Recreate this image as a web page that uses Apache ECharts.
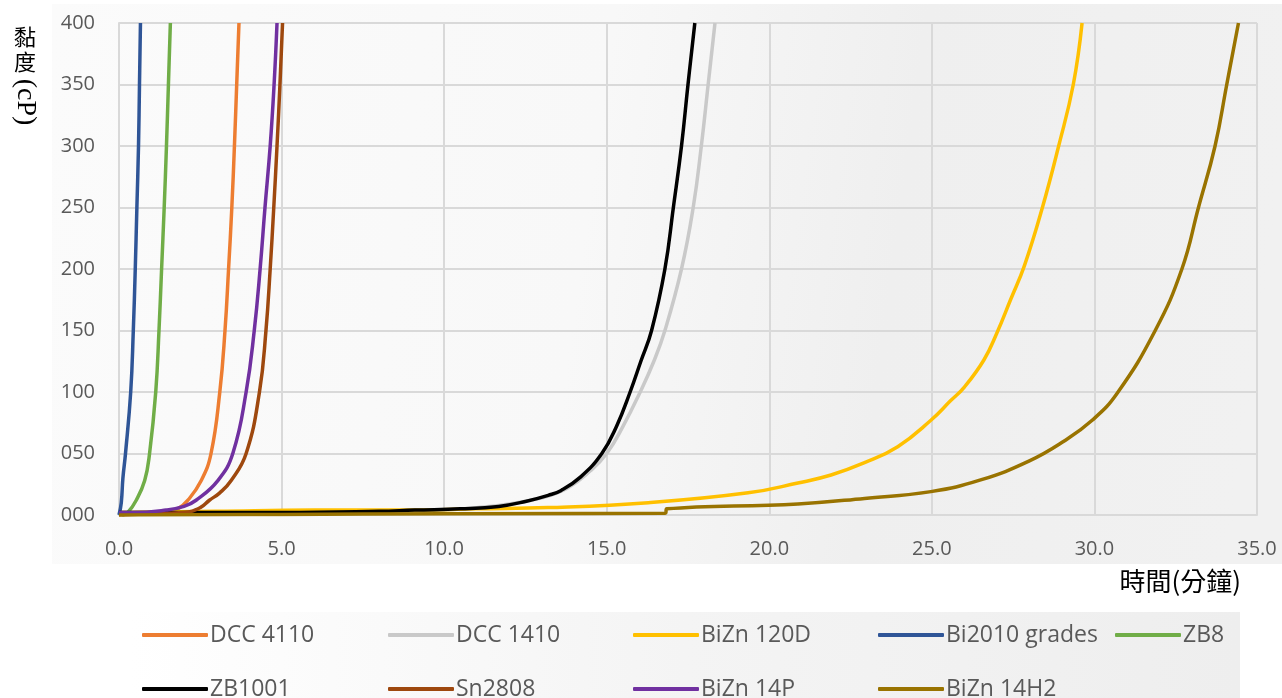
<!DOCTYPE html>
<html>
<head>
<meta charset="utf-8">
<script src="https://cdn.jsdelivr.net/npm/echarts@6/dist/echarts.min.js"></script>
<style>
html,body{margin:0;padding:0;background:#fff;}
#chart{width:1282px;height:698px;}
</style>
</head>
<body>
<div id="chart"></div>
<script>
// ---- data (time in minutes, viscosity in cP) ----
const seriesNames = ['DCC 4110','DCC 1410','BiZn 120D','Bi2010 grades','ZB8','ZB1001','Sn2808','BiZn 14P','BiZn 14H2'];
const seriesColors = ['#ED7D31','#C9C9C9','#FFC000','#2F5597','#70AD47','#000000','#9E480E','#7030A0','#997300'];

const dcc4110 = [[0,1],[1.0,1.5],[1.5,3],[1.81,5],[2.12,12],[2.53,28],[2.83,50],[3.1,100],[3.26,150],[3.37,200],[3.47,250],[3.55,300],[3.62,350],[3.69,400]];
const dcc1410 = [[0,1],[3,1.5],[6,2],[9,3],[10,4],[11,6],[12,9],[13,14],[13.8,22],[14.5,36],[15.0,50],[15.5,72],[16.03,100],[16.45,125],[16.79,150],[17.3,200],[17.66,250],[17.91,300],[18.12,350],[18.33,400]];
const bizn120d = [[0,2],[3,3],[6,4],[9,4],[11,5],[13.2,6],[16.28,10],[19.35,18],[20.88,26],[21.9,32.5],[22.93,42.5],[23.95,55.5],[24.97,77],[25.58,93],[26.0,104],[26.6,126],[27.0,148],[27.42,175],[27.85,203],[28.4,250],[28.9,300],[29.35,350],[29.62,400]];
const bi2010 = [[0,0],[0.07,10],[0.12,30],[0.2,50],[0.36,100],[0.44,150],[0.5,200],[0.55,250],[0.6,300],[0.63,350],[0.66,400]];
const zb8 = [[0.1,0],[0.27,2],[0.53,12],[0.79,28],[0.94,50],[1.13,100],[1.23,150],[1.31,200],[1.39,250],[1.46,300],[1.52,350],[1.58,400]];
const zb1001 = [[0,2],[5,2],[8,3],[9.1,4],[10.5,5],[11.68,7],[12.5,11],[13.2,16],[13.6,20],[14.2,31],[14.85,50],[15.3,72],[15.72,100],[16.05,125],[16.38,150],[16.79,200],[17.05,250],[17.3,300],[17.5,350],[17.71,400]];
const sn2808 = [[0,0],[1,1],[2.0,2],[2.5,6],[2.78,12],[3.1,18],[3.45,28],[3.91,50],[4.32,100],[4.52,150],[4.65,200],[4.76,250],[4.86,300],[4.95,350],[5.03,400]];
const bizn14p = [[0,2],[0.42,2],[1.45,4],[2.0,7],[2.37,12],[3.04,28],[3.5,50],[3.91,100],[4.16,150],[4.34,200],[4.49,250],[4.65,300],[4.77,350],[4.86,400]];
const bizn14h2 = [[0,0],[5,0.5],[10,1],[16.8,1.5],[16.85,5],[20.88,9],[22.93,13.5],[24.97,19],[26.5,28.5],[28.0,44],[29.06,60],[29.93,77],[30.7,99],[31.87,150],[32.69,200],[33.2,250],[33.71,300],[34.07,350],[34.43,400]];

const seriesData = [dcc4110, dcc1410, bizn120d, bi2010, zb8, zb1001, sn2808, bizn14p, bizn14h2];

const xTicks = {min:0, max:35, interval:5};
const yTicks = {min:0, max:400, interval:50};

const yAxisName = ['黏','度','(cP)'];
const xAxisName = '時間(分鐘)';

// legend placement (two rows)
const legendPos = [
  [137,616],[383,616],[628,616],[873,616],[1110,616],
  [137,670],[383,670],[628,670],[873,670]
];

const chart = echarts.init(document.getElementById('chart'), null, {renderer:'canvas'});

const series = seriesNames.map((n,i)=>({
  name:n, type:'line', data:seriesData[i],
  showSymbol:false, symbol:'none',
  smooth:0.45,
  lineStyle:{color:seriesColors[i], width:3.5},
  itemStyle:{color:seriesColors[i]},
  z: 2 + i, clip:true, animation:false
}));

const legends = seriesNames.map((n,i)=>({
  data:[n], left:legendPos[i][0], top:legendPos[i][1],
  icon:'roundRect', itemWidth:66, itemHeight:4, itemGap:4,
  selectedMode:false,
  textStyle:{fontFamily:'Open Sans', fontSize:23, color:'#595959', lineHeight:28, padding:[0,0,0,-3]}
}));

const tickFont = {fontFamily:'Open Sans', fontSize:20, color:'#595959'};

chart.setOption({
  backgroundColor:'#ffffff',
  animation:false,
  grid:{left:119, right:25, top:23, bottom:183, containLabel:false},
  legend:legends,
  xAxis:{
    type:'value', min:xTicks.min, max:xTicks.max, interval:xTicks.interval,
    axisLine:{show:true, lineStyle:{color:'#d9d9d9', width:2}},
    axisTick:{show:false},
    splitLine:{show:true, lineStyle:{color:'#d9d9d9', width:2}},
    axisLabel:Object.assign({margin:24, formatter:v=>v.toFixed(1)}, tickFont)
  },
  yAxis:{
    type:'value', min:yTicks.min, max:yTicks.max, interval:yTicks.interval,
    axisLine:{show:true, lineStyle:{color:'#d9d9d9', width:2}},
    axisTick:{show:false},
    splitLine:{show:true, lineStyle:{color:'#d9d9d9', width:2}},
    axisLabel:Object.assign({margin:24, formatter:v=>String(v).padStart(3,'0')}, tickFont)
  },
  graphic:[
    {type:'rect', z:-10, silent:true, shape:{x:52, y:4, width:1230, height:560},
     style:{fill:{type:'linear', x:0, y:0, x2:1, y2:0.3, colorStops:[
       {offset:0, color:'#fbfbfb'},{offset:0.45, color:'#f8f8f8'},{offset:0.7, color:'#efefef'},{offset:1, color:'#f1f1f1'}]}}},
    {type:'rect', z:-10, silent:true, shape:{x:130, y:612, width:1110, height:86},
     style:{fill:{type:'linear', x:0, y:0, x2:1, y2:0, colorStops:[
       {offset:0, color:'#ffffff'},{offset:0.5, color:'#f4f4f4'},{offset:1, color:'#eeeeee'}]}}},
    {type:'text', silent:true, style:{text:yAxisName[0], x:25, y:37, align:'center', verticalAlign:'middle', font:'22px "Noto Sans CJK TC"', fill:'#000'}},
    {type:'text', silent:true, style:{text:yAxisName[1], x:25, y:62, align:'center', verticalAlign:'middle', font:'22px "Noto Sans CJK TC"', fill:'#000'}},
    {type:'text', silent:true, x:25, y:102, rotation:-Math.PI/2,
     style:{text:yAxisName[2], x:0, y:0, align:'center', verticalAlign:'middle', font:'28px "Liberation Serif"', fill:'#000'}},
    {type:'text', silent:true, style:{text:xAxisName, x:1241, y:581, align:'right', verticalAlign:'middle', font:'26px "Noto Sans CJK TC"', fill:'#000'}}
  ],
  series:series
});
</script>
</body>
</html>
